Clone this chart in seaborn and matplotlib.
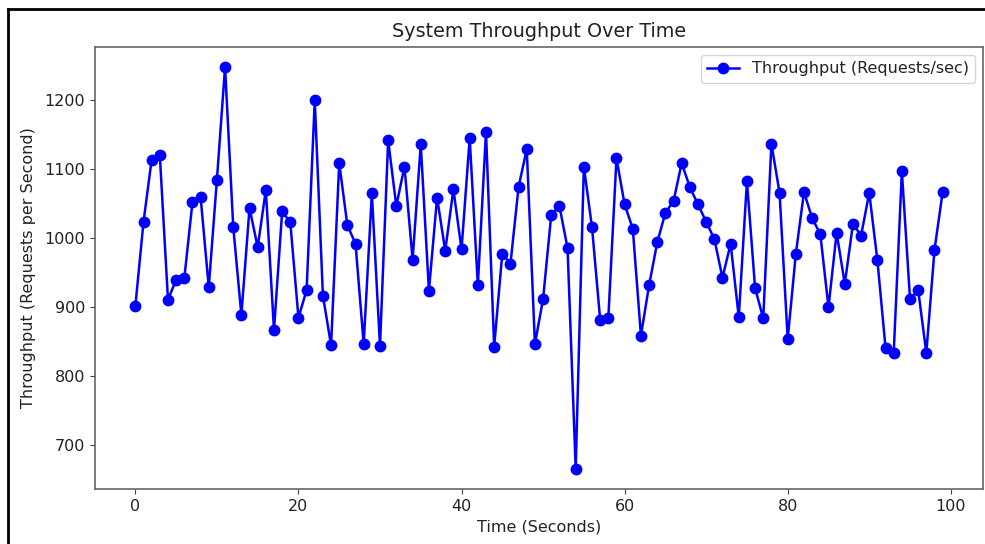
import matplotlib
matplotlib.use("Agg")
import matplotlib.pyplot as plt
from matplotlib.lines import Line2D
import seaborn as sns
import pandas as pd

time_seconds = list(range(100))
throughput = [
    902, 1024, 1114, 1120, 911, 940, 942, 1052, 1060, 929,
    1085, 1248, 1017, 889, 1044, 987, 1070, 867, 1039, 1023,
    885, 925, 1200, 917, 845, 1109, 1019, 992, 847, 1065,
    844, 1142, 1047, 1104, 969, 1136, 924, 1059, 982, 1071,
    984, 1145, 932, 1154, 843, 978, 963, 1075, 1129, 847,
    912, 1034, 1047, 986, 666, 1104, 1016, 882, 884, 1116,
    1049, 1014, 859, 932, 994, 1037, 1054, 1109, 1074, 1049,
    1024, 999, 943, 992, 886, 1083, 928, 884, 1137, 1066,
    854, 978, 1067, 1029, 1006, 900, 1008, 934, 1021, 1004,
    1066, 968, 841, 834, 1097, 912, 925, 834, 983, 1067,
]
series_label = "Throughput (Requests/sec)"
title = "System Throughput Over Time"
xlabel = "Time (Seconds)"
ylabel = "Throughput (Requests per Second)"

df = pd.DataFrame({"t": time_seconds, "v": throughput})

plt.rcParams["font.family"] = ["DejaVu Sans"]
plt.rcParams["font.size"] = 11.5
plt.rcParams["text.color"] = "#222222"
plt.rcParams["axes.labelcolor"] = "#222222"
plt.rcParams["xtick.color"] = "#444444"
plt.rcParams["ytick.color"] = "#444444"
plt.rcParams["xtick.labelcolor"] = "#222222"
plt.rcParams["ytick.labelcolor"] = "#222222"

fig = plt.figure(figsize=(9.85, 5.44), dpi=100)
ax = fig.add_axes([95 / 985, 1 - 489 / 544, (983 - 95) / 985, (489 - 47) / 544])

sns.lineplot(data=df, x="t", y="v", ax=ax, color="blue", marker="o",
             markersize=7.5, markeredgecolor="blue", markeredgewidth=1,
             linewidth=1.8, label=series_label)

ax.set_title(title, fontsize=13.8, pad=7)
ax.set_xlabel(xlabel, fontsize=11.5)
ax.set_ylabel(ylabel, fontsize=11.5, labelpad=6)
ax.set_xticks([0, 20, 40, 60, 80, 100])
ax.set_yticks([700, 800, 900, 1000, 1100, 1200])
ax.tick_params(labelsize=11.5)
for s in ax.spines.values():
    s.set_color("#666666")
    s.set_linewidth(1.2)
ax.legend(loc="upper right", fontsize=11.5)

# screenshot frame (top and left edges visible)
fig.add_artist(Line2D([8 / 985, 1.0], [1 - 9 / 544, 1 - 9 / 544],
                      color="black", linewidth=2, transform=fig.transFigure))
fig.add_artist(Line2D([8 / 985, 8 / 985], [0, 1 - 9 / 544],
                      color="black", linewidth=2, transform=fig.transFigure))

fig.savefig("out.png", dpi=100)
